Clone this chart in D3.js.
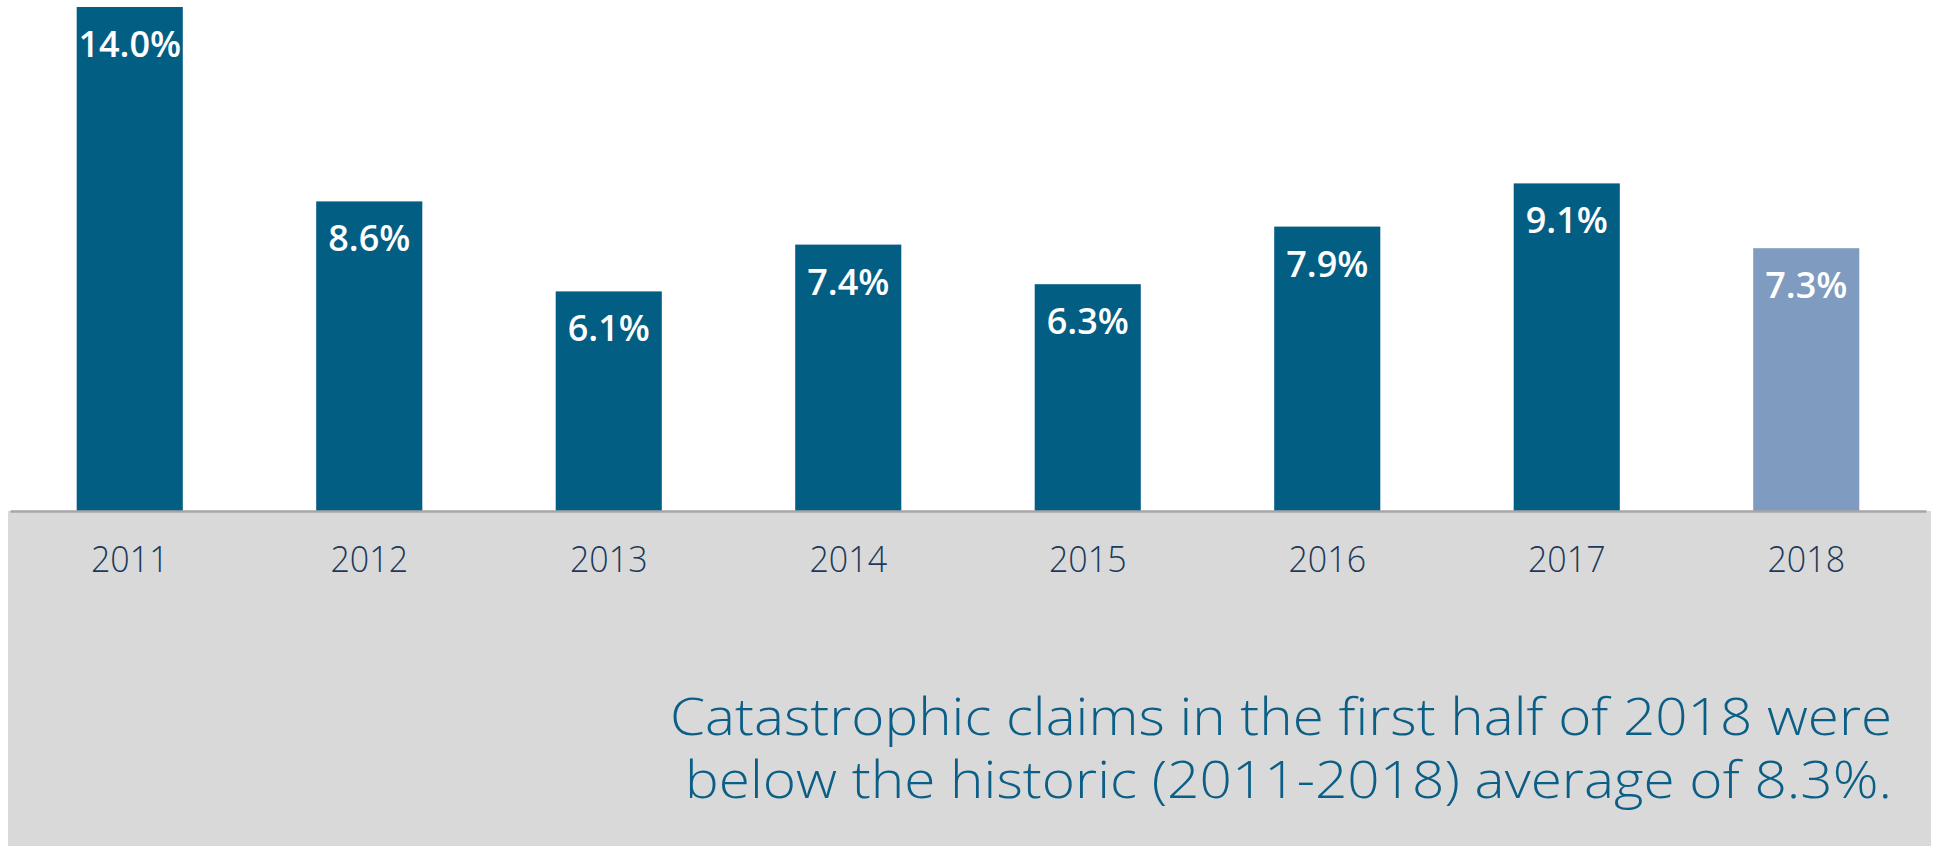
<!DOCTYPE html>
<html>
<head>
<meta charset="utf-8">
<script src="https://cdn.jsdelivr.net/npm/d3@7"></script>
<style>
  html, body { margin: 0; padding: 0; background: #ffffff; }
  svg { display: block; }
</style>
</head>
<body>
<svg id="chart" width="1935" height="846"></svg>
<script>
// Catastrophic claims share by year (first half of each year)
const years = ["2011", "2012", "2013", "2014", "2015", "2016", "2017", "2018"];
const claimShare = [14.0, 8.6, 6.1, 7.4, 6.3, 7.9, 9.1, 7.3];
const highlightYear = "2018";
const captionLines = [
  "Catastrophic claims in the first half of 2018 were",
  "below the historic (2011-2018) average of 8.3%."
];

const W = 1935, H = 846;
const baseY = 511;
const svg = d3.select("#chart");

// grey footer panel under the axis
svg.append("rect")
  .attr("x", 8).attr("y", baseY)
  .attr("width", 1923).attr("height", H - baseY)
  .attr("fill", "#d9d9d9");

const x = d3.scaleBand()
  .domain(years)
  .range([10, 1926])
  .paddingInner(0.557)
  .paddingOuter(0.2785);

const y = d3.scaleLinear()
  .domain([0, 14])
  .range([baseY, 7]);

const data = years.map((yr, i) => ({ year: yr, value: claimShare[i] }));

svg.selectAll("rect.bar")
  .data(data)
  .join("rect")
  .attr("class", "bar")
  .attr("x", d => x(d.year))
  .attr("y", d => y(d.value))
  .attr("width", x.bandwidth())
  .attr("height", d => y(0) - y(d.value))
  .attr("fill", d => d.year === highlightYear ? "#7f9bbf" : "#035e84");

svg.selectAll("text.val")
  .data(data)
  .join("text")
  .attr("class", "val")
  .attr("x", d => x(d.year) + x.bandwidth() / 2)
  .attr("y", d => y(d.value) + 50)
  .attr("text-anchor", "middle")
  .attr("fill", "#ffffff")
  .style("font-family", "'Open Sans', sans-serif")
  .style("font-weight", 600)
  .style("font-size", "36px")
  .text(d => d.value.toFixed(1) + "%");

// category axis along the baseline
const axis = svg.append("g")
  .attr("transform", `translate(0,${baseY})`)
  .call(d3.axisBottom(x).tickSize(0).tickSizeOuter(0).tickPadding(0));

axis.select(".domain")
  .attr("stroke", "#a6a6a6")
  .attr("stroke-width", 2.5);

axis.selectAll(".tick text")
  .attr("y", 61)
  .attr("dy", 0)
  .attr("fill", "#1c3a5b")
  .attr("transform", "scale(0.92,1)")
  .style("font-family", "'Open Sans', sans-serif")
  .style("font-weight", 300)
  .style("font-size", "37px");

// caption, right-aligned in the panel
const capWidths = [1222, 1207];
svg.append("text")
  .attr("class", "caption")
  .attr("text-anchor", "end")
  .attr("fill", "#0b5f86")
  .style("font-family", "'Open Sans', sans-serif")
  .style("font-weight", 300)
  .style("font-size", "52px")
  .selectAll("tspan")
  .data(captionLines)
  .join("tspan")
  .attr("x", 1892)
  .attr("y", (d, i) => 735 + i * 63)
  .attr("textLength", (d, i) => capWidths[i])
  .attr("lengthAdjust", "spacingAndGlyphs")
  .text(d => d);
</script>
</body>
</html>
